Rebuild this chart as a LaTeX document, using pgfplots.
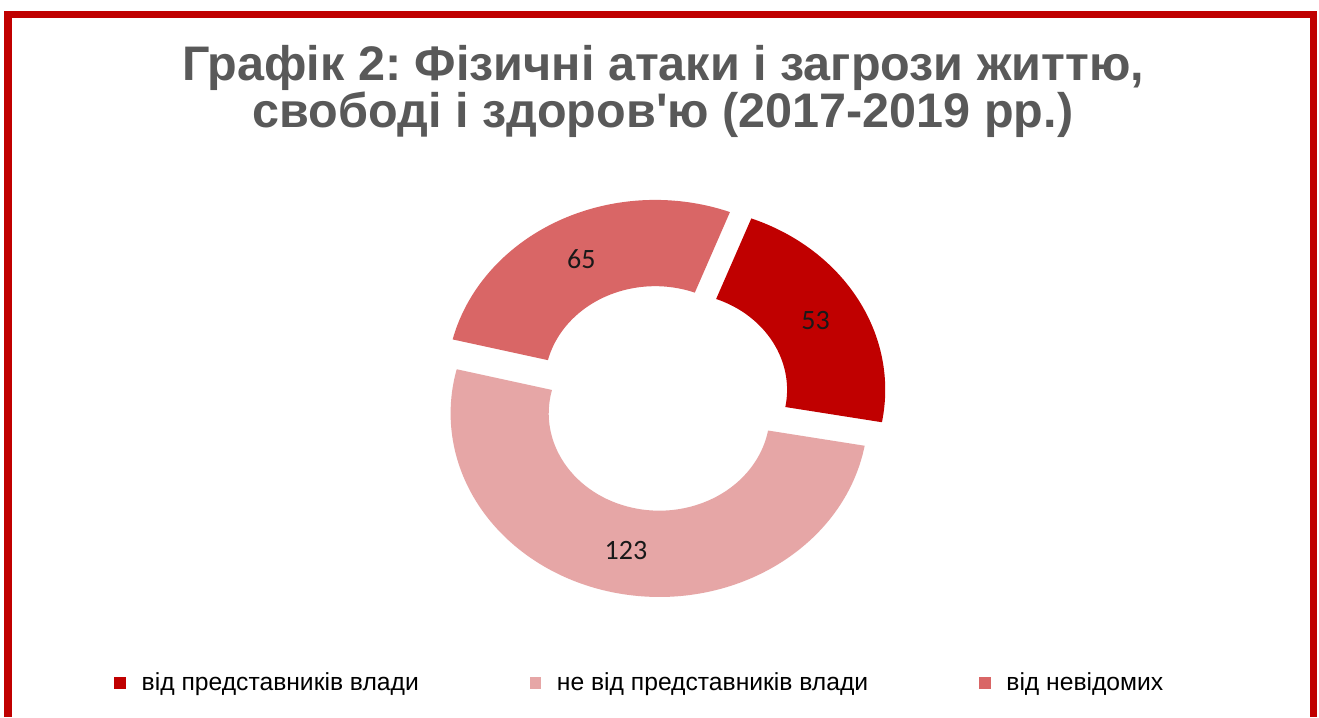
\documentclass[border=0pt]{standalone}
\usepackage{fontspec}
\setmainfont{Liberation Sans}
\newfontfamily\calibri{Carlito}
\usepackage{pgfplots}
\pgfplotsset{compat=1.18}
\usepackage{pgfplotstable}
\usetikzlibrary{calc}

\definecolor{framered}{HTML}{C00000}
\definecolor{ofgov}{HTML}{C00000}
\definecolor{notgov}{HTML}{E6A6A6}
\definecolor{unknown}{HTML}{D96666}
\definecolor{titlegray}{HTML}{595959}

% attacks by source: authorities, not authorities, unknown
\pgfplotstableread{
value
53
123
65
}\attacks

% donut geometry, axis units are pixels (1px = 0.75pt), radii in pt
\def\cx{662.6}\def\cy{319.3}\def\explode{16}
\def\RX{156.5}\def\RY{137.7}  % outer radii
\def\rX{82.9}\def\rY{73.0}    % inner radii
\def\MX{119.7}\def\MY{105.4}  % label radius

\newcommand\donutslice[4]{%
  \pgfmathsetmacro\midang{(#1+#2)/2}%
  \pgfmathsetmacro\ox{\cx+\explode*cos(\midang)}%
  \pgfmathsetmacro\oy{\cy+\explode*sin(\midang)}%
  \fill[#3] ($(axis cs:\ox,\oy)+(#1:\RX pt and \RY pt)$)
    arc[start angle=#1, end angle=#2, x radius=\RX pt, y radius=\RY pt]
    -- ($(axis cs:\ox,\oy)+(#2:\rX pt and \rY pt)$)
    arc[start angle=#2, end angle=#1, x radius=\rX pt, y radius=\rY pt] -- cycle;
  \node[font=\calibri\fontsize{21}{21}\selectfont, text=black!90]
    at ($(axis cs:\ox,\oy)+(\midang:\MX pt and \MY pt)$) {#4};
}

\begin{document}
\frenchspacing
\begin{tikzpicture}
\begin{axis}[
    x=0.75pt, y=0.75pt,
    xmin=0, xmax=1319, ymin=0, ymax=717,
    hide axis, clip=false,
    legend columns=3,
    legend cell align=left,
    legend style={at={(axis cs:110,34.5)}, anchor=west, draw=none, fill=none,
        font=\fontsize{18.5}{20}\selectfont,
        /tikz/every odd column/.append style={column sep=10pt},
        /tikz/every even column/.append style={column sep=81pt}},
]
\fill[white] (axis cs:0,0) rectangle (axis cs:1319,717);
% red frame
\fill[framered] (axis cs:4,0) rectangle (axis cs:12,706);
\fill[framered] (axis cs:4,699) rectangle (axis cs:1317,706);
\fill[framered] (axis cs:1310,0) rectangle (axis cs:1317,706);

\pgfplotsextra{
  \pgfplotstablegetelem{0}{value}\of\attacks \let\va\pgfplotsretval
  \pgfplotstablegetelem{1}{value}\of\attacks \let\vb\pgfplotsretval
  \pgfplotstablegetelem{2}{value}\of\attacks \let\vc\pgfplotsretval
  \pgfmathsetmacro\tot{\va+\vb+\vc}
  \pgfmathsetmacro\aA{69}
  \pgfmathsetmacro\aB{\aA-\va/\tot*360}
  \pgfmathsetmacro\aC{\aB-\vb/\tot*360}
  \pgfmathsetmacro\aD{\aC-\vc/\tot*360}
  \donutslice{\aA}{\aB}{ofgov}{\va}
  \donutslice{\aB}{\aC}{notgov}{\vb}
  \donutslice{\aC}{\aD}{unknown}{\vc}
}

\node[font=\bfseries\fontsize{36.4}{42}\selectfont, text=titlegray, anchor=base]
  at (axis cs:663,636) {Графік 2: Фізичні атаки і загрози життю,};
\node[font=\bfseries\fontsize{36.4}{42}\selectfont, text=titlegray, anchor=base]
  at (axis cs:663,589) {свободі і здоров\textquotesingle ю (2017-2019 рр.)};

\addlegendimage{legend image code/.code={\fill[ofgov] (0pt,-4.1pt) rectangle (8.2pt,4.1pt);}}
\addlegendentry{від представників влади}
\addlegendimage{legend image code/.code={\fill[notgov] (0pt,-4.1pt) rectangle (8.2pt,4.1pt);}}
\addlegendentry{не від представників влади}
\addlegendimage{legend image code/.code={\fill[unknown] (0pt,-4.1pt) rectangle (8.2pt,4.1pt);}}
\addlegendentry{від невідомих}
\end{axis}
\end{tikzpicture}
\end{document}
